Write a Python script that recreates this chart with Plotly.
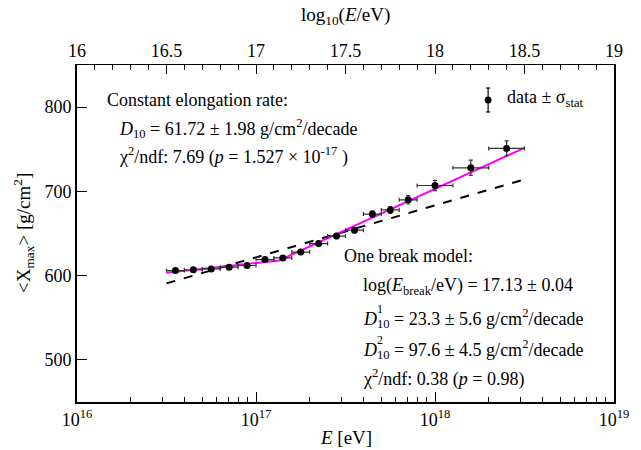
import numpy as np
import plotly.graph_objects as go

# ---- data ----
lgE = [16.55, 16.65, 16.75, 16.85, 16.95, 17.05, 17.15, 17.25, 17.35, 17.45,
       17.55, 17.65, 17.75, 17.85, 18.0, 18.2, 18.4]
xmax = [606, 607, 608, 610, 612, 619, 621, 628, 638, 647,
        654, 673, 678, 690, 707, 728, 751]
xmax_err = [1.5, 1.5, 1.5, 1.5, 1.5, 2, 2, 2.5, 2.5, 3,
            3, 3.5, 4, 5, 6, 9, 9]
half_bin = [0.05] * 14 + [0.1] * 3

# fit parameters
const_at175 = 652.5
D10 = 61.72
lg_break = 17.13
X_break = 618.0
D10_1 = 23.3
D10_2 = 97.6
fit_range = [16.5, 18.5]

FONT = "Liberation Serif"
FS = 18

E = np.power(10.0, lgE)
hb = np.array(half_bin)
ex_plus = E * (np.power(10.0, hb) - 1)
ex_minus = E * (1 - np.power(10.0, -hb))

fig = go.Figure()

# constant elongation rate (dashed)
lc = np.array(fit_range)
fig.add_trace(go.Scatter(x=10 ** lc, y=const_at175 + D10 * (lc - 17.5), mode="lines",
                         line=dict(color="black", width=2, dash="dash"), showlegend=False))
# one break model
lb = np.array([fit_range[0], lg_break, fit_range[1]])
yb = np.where(lb < lg_break, X_break + D10_1 * (lb - lg_break), X_break + D10_2 * (lb - lg_break))
fig.add_trace(go.Scatter(x=10 ** lb, y=yb, mode="lines",
                         line=dict(color="#ff00ff", width=2), showlegend=False))
# data
fig.add_trace(go.Scatter(x=E, y=xmax, mode="markers",
                         marker=dict(color="black", size=7),
                         error_y=dict(type="data", array=xmax_err, color="#333", thickness=1.2, width=2),
                         error_x=dict(type="data", array=ex_plus, arrayminus=ex_minus, color="#333",
                                      thickness=1.2, width=2),
                         showlegend=False))
# invisible trace on top axis
fig.add_trace(go.Scatter(x=[16, 19], y=[450, 450], xaxis="x2", mode="markers",
                         marker=dict(opacity=0), showlegend=False, hoverinfo="skip"))

minor_vals = [k * 10.0 ** d for d in (16, 17, 18) for k in range(2, 10)]

fig.update_layout(
    width=641, height=450,
    margin=dict(l=77, r=18, t=65, b=48),
    paper_bgcolor="white", plot_bgcolor="white",
    font=dict(family=FONT, size=FS, color="black"),
    xaxis=dict(type="log", range=[16, 19], showgrid=False, zeroline=False,
               showline=True, linecolor="black", linewidth=2,
               ticks="inside", ticklen=10, tickcolor="black",
               tickvals=[1e16, 1e17, 1e18, 1e19],
               ticktext=["10<sup>16</sup>", "10<sup>17</sup>", "10<sup>18</sup>", "10<sup>19</sup>"],
               minor=dict(ticks="inside", ticklen=5, tickcolor="black", tickvals=minor_vals),
               tickfont=dict(size=FS)),
    xaxis2=dict(overlaying="x", side="top", range=[16, 19], showgrid=False, zeroline=False,
                showline=True, linecolor="black", linewidth=1,
                ticks="inside", ticklen=9, tickcolor="black", dtick=0.5, tick0=16,
                minor=dict(ticks="inside", ticklen=5, tickcolor="black", dtick=0.1),
                tickfont=dict(size=FS)),
    yaxis=dict(range=[450, 850], showgrid=False, zeroline=False,
               showline=True, linecolor="black", linewidth=2, mirror=True,
               ticks="inside", ticklen=10, tickcolor="black", dtick=100, tick0=500,
               tickfont=dict(size=FS)),
)

def px2paper(px, py):
    return (px - 77) / 546.0, (402 - py) / 337.0

def txt(px, py, s, size=FS, xanchor="left", angle=0):
    xp, yp = px2paper(px, py)
    fig.add_annotation(x=xp, y=yp, xref="paper", yref="paper", text=s, showarrow=False,
                       xanchor=xanchor, yanchor="middle", font=dict(family=FONT, size=size),
                       textangle=angle)

txt(105, 100, "Constant elongation rate:")
txt(118, 128, "<i>D</i><sub>10</sub> = 61.72 ± 1.98 g/cm<sup>2</sup>/decade")
txt(118, 156, "χ<sup>2</sup>/ndf: 7.69 (<i>p</i> = 1.527 × 10<sup>-17</sup> )")

txt(346, 256, "One break model:")
txt(366, 286, "log(<i>E</i><sub>break</sub>/eV) = 17.13 ± 0.04")
txt(366, 318, "<i>D</i><sub>10</sub> = 23.3 ± 5.6 g/cm<sup>2</sup>/decade")
txt(380, 309, "1", size=12)
txt(366, 349, "<i>D</i><sub>10</sub> = 97.6 ± 4.5 g/cm<sup>2</sup>/decade")
txt(380, 340, "2", size=12)
txt(366, 378, "χ<sup>2</sup>/ndf: 0.38 (<i>p</i> = 0.98)")

txt(512, 98, "data ± σ<sub>stat</sub>")

# legend symbol
lx, ly = px2paper(495, 100)
_, ly1 = px2paper(495, 88)
_, ly2 = px2paper(495, 112)
fig.add_shape(type="line", xref="paper", yref="paper", x0=lx, x1=lx, y0=ly1, y1=ly2,
              line=dict(color="black", width=1.2))
fig.add_shape(type="line", xref="paper", yref="paper", x0=lx - 2 / 546, x1=lx + 2 / 546, y0=ly1, y1=ly1,
              line=dict(color="black", width=1.2))
fig.add_shape(type="line", xref="paper", yref="paper", x0=lx - 2 / 546, x1=lx + 2 / 546, y0=ly2, y1=ly2,
              line=dict(color="black", width=1.2))
fig.add_shape(type="circle", xref="paper", yref="paper", x0=lx - 3.5 / 546, x1=lx + 3.5 / 546,
              y0=ly - 3.5 / 337, y1=ly + 3.5 / 337, fillcolor="black", line=dict(color="black", width=0))

# axis titles
txt(22, 233, "&lt;X<sub>max</sub>&gt; [g/cm<sup>2</sup>]", size=FS + 1, xanchor="center", angle=-90)
txt(350, 438, "<i>E</i> [eV]", size=FS + 1, xanchor="center")
txt(350, 16, "log<sub>10</sub>(<i>E</i>/eV)", size=FS + 1, xanchor="center")

fig.write_html("out.html")
